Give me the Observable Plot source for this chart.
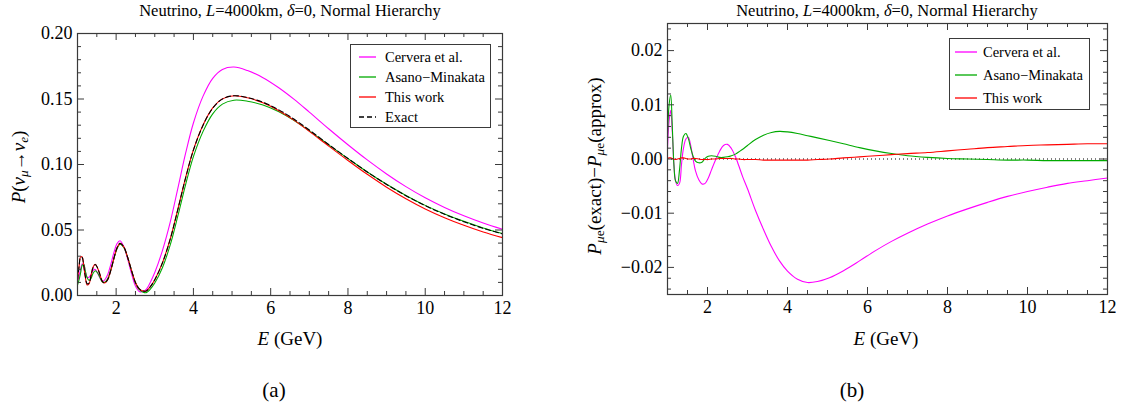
<!DOCTYPE html>
<html><head><meta charset="utf-8">
<script src="https://cdn.jsdelivr.net/npm/d3@7"></script>
<script src="https://cdn.jsdelivr.net/npm/@observablehq/plot@0.6"></script>
<style>
body{margin:0;background:#fff;}
#root{position:relative;width:1121px;height:409px;overflow:hidden;font-family:"Liberation Serif","Times New Roman",serif;color:#000;}
#root svg text{font-family:"Liberation Serif","Times New Roman",serif !important;}
.abs{position:absolute;white-space:nowrap;line-height:1;}
.c{transform:translate(-50%,-50%);}
.rot{transform:translate(-50%,-50%) rotate(-90deg);}
sub{font-size:70%;vertical-align:-0.28em;line-height:0;}
.leg{position:absolute;border:1px solid #3a3a3a;background:#fff;box-sizing:border-box;}
.legtxt{position:absolute;white-space:nowrap;font-size:14.5px;line-height:16px;}
.svgwrap{position:absolute;top:0;}
</style></head><body><div id="root"></div>
<script>
// ---------- data ----------
const energy = [1.00,1.04,1.08,1.12,1.16,1.20,1.25,1.30,1.35,1.40,1.46,1.52,1.58,1.64,1.70,1.78,1.86,1.94,2.02,2.10,2.20,2.30,2.40,2.50,2.60,2.70,2.78,2.88,3.00,3.20,3.40,3.60,3.80,4.00,4.25,4.50,4.75,5.05,5.40,5.80,6.20,6.60,7.00,7.50,8.00,8.50,9.00,9.50,10.0,10.5,11.0,11.5,12.0];

// panel (a): P(nu_mu -> nu_e)
const probExact = [0.012,0.022,0.029,0.029,0.023,0.015,0.009,0.0095,0.015,0.021,0.0236,0.021,0.016,0.011,0.0096,0.012,0.019,0.028,0.036,0.0398,0.037,0.029,0.019,0.010,0.005,0.0034,0.0035,0.0065,0.012,0.025,0.043,0.066,0.090,0.111,0.130,0.143,0.150,0.1525,0.1511,0.1475,0.1419,0.1347,0.1263,0.1153,0.1046,0.0943,0.0848,0.0762,0.0686,0.0620,0.0563,0.0513,0.0470];
const probThisWork = [0.0115,0.022,0.0295,0.0295,0.023,0.0145,0.008,0.009,0.015,0.0215,0.0238,0.021,0.016,0.011,0.0095,0.012,0.019,0.028,0.036,0.0398,0.037,0.029,0.019,0.010,0.005,0.0034,0.0035,0.0066,0.0121,0.0251,0.0432,0.0662,0.0902,0.1112,0.1302,0.1432,0.1501,0.1525,0.1509,0.1471,0.1413,0.1339,0.1253,0.1141,0.1031,0.0925,0.0827,0.0739,0.0661,0.0594,0.0536,0.0485,0.0442];
const probAsano = [0.008,0.012,0.0172,0.023,0.024,0.019,0.0135,0.0115,0.013,0.0168,0.0189,0.0172,0.014,0.0105,0.0100,0.0127,0.0196,0.0279,0.0355,0.0392,0.0365,0.0287,0.0187,0.0096,0.0044,0.0025,0.0022,0.0047,0.0095,0.0214,0.0386,0.0611,0.0849,0.106,0.1253,0.1387,0.1461,0.1491,0.1483,0.1454,0.1404,0.1337,0.1257,0.1150,0.1045,0.0943,0.0849,0.0764,0.0688,0.0623,0.0566,0.0516,0.0473];
const probCervera = [0.010,0.015,0.020,0.024,0.024,0.019,0.0139,0.014,0.016,0.019,0.0199,0.017,0.0135,0.011,0.0118,0.0158,0.0236,0.0325,0.0395,0.0418,0.0372,0.0276,0.0165,0.0073,0.0031,0.003,0.0047,0.0098,0.0175,0.0345,0.056,0.0822,0.1088,0.1317,0.1522,0.1658,0.1726,0.1744,0.1717,0.1663,0.1588,0.1499,0.1400,0.1273,0.1151,0.1035,0.0928,0.0831,0.0746,0.0672,0.0608,0.0553,0.0505];

// panel (b): P(exact) - P(approx)
const diffCervera = [0.002,0.007,0.009,0.005,-0.001,-0.004,-0.0049,-0.0045,-0.001,0.002,0.0037,0.004,0.0025,0.0,-0.0022,-0.0038,-0.0046,-0.0045,-0.0035,-0.002,-0.0002,0.0014,0.0025,0.0027,0.0019,0.0004,-0.0012,-0.0033,-0.0055,-0.0095,-0.0130,-0.0162,-0.0188,-0.0207,-0.0222,-0.0228,-0.0226,-0.0219,-0.0206,-0.0188,-0.0169,-0.0152,-0.0137,-0.0120,-0.0105,-0.0092,-0.0080,-0.0069,-0.0060,-0.0052,-0.0045,-0.0040,-0.0035];
const diffAsano = [0.004,0.010,0.0118,0.006,-0.001,-0.004,-0.0045,-0.002,0.002,0.0042,0.0047,0.0038,0.002,0.0005,-0.0004,-0.0007,-0.0006,0.0001,0.0005,0.0006,0.0005,0.0003,0.0003,0.0004,0.0006,0.0009,0.0013,0.0018,0.0025,0.0036,0.0044,0.0049,0.0051,0.0050,0.0047,0.0043,0.0039,0.0034,0.0028,0.0021,0.0015,0.0010,0.0006,0.0003,0.0001,0.0,-0.0001,-0.0002,-0.0002,-0.0003,-0.0003,-0.0003,-0.0003];
const diffThisWork = [0.0001,0.0002,0.0002,0.0001,0.0,-0.0001,0.0,0.0001,0.0002,0.0002,0.0001,0.0,0.0,0.0001,0.0001,0.0,-0.0001,-0.0001,-0.0001,0.0,0.0,0.0001,0.0001,0.0001,0.0001,0.0,0.0,-0.0001,-0.0001,-0.0001,-0.0002,-0.0002,-0.0002,-0.0002,-0.0002,-0.0002,-0.0001,0.0,0.0002,0.0004,0.0006,0.0008,0.0010,0.0012,0.0015,0.0018,0.0021,0.0023,0.0025,0.0026,0.0027,0.0028,0.0028];

const seriesNames = ["Cervera et al.", "Asano\u2212Minakata", "This work", "Exact"];
const seriesColors = ["#ff00ff", "#00aa00", "#ff0000", "#000000"];

const xMajor = [2,4,6,8,10,12];
const xMinor = [1.5,2.5,3,3.5,4.5,5,5.5,6.5,7,7.5,8.5,9,9.5,10.5,11,11.5];
const yMajorA = [0,0.05,0.10,0.15,0.20];
const yMinorA = [0.01,0.02,0.03,0.04,0.06,0.07,0.08,0.09,0.11,0.12,0.13,0.14,0.16,0.17,0.18,0.19];
const yMajorB = [-0.02,-0.01,0,0.01,0.02];
const yMinorB = [-0.024,-0.022,-0.018,-0.016,-0.014,-0.012,-0.008,-0.006,-0.004,-0.002,0.002,0.004,0.006,0.008,0.012,0.014,0.016,0.018,0.022,0.024];

// ---------- helpers ----------
const root = document.getElementById("root");
const rows = vals => energy.map((e, i) => ({E: e, v: vals[i]}));
const frameColor = "#3a3a3a";
const serif = '"Liberation Serif","Times New Roman",serif';

function panel({left, width, mL, mR, mT, mB, yDomain, yMajor, yMinor, curves, extra}) {
  const height = 409;
  const fh = height - mT - mB, fw = width - mL - mR;
  const big = 7, small = 4;
  const tickMarks = [
    Plot.tickX(xMajor, {x: d => d, insetTop: fh - big, stroke: frameColor}),
    Plot.tickX(xMinor, {x: d => d, insetTop: fh - small, stroke: frameColor}),
    Plot.tickX(xMajor, {x: d => d, insetBottom: fh - big, stroke: frameColor}),
    Plot.tickX(xMinor, {x: d => d, insetBottom: fh - small, stroke: frameColor}),
    Plot.tickY(yMajor, {y: d => d, insetRight: fw - big, stroke: frameColor}),
    Plot.tickY(yMinor, {y: d => d, insetRight: fw - small, stroke: frameColor}),
    Plot.tickY(yMajor, {y: d => d, insetLeft: fw - big, stroke: frameColor}),
    Plot.tickY(yMinor, {y: d => d, insetLeft: fw - small, stroke: frameColor})
  ];
  const svg = Plot.plot({
    width, height, marginLeft: mL, marginRight: mR, marginTop: mT, marginBottom: mB,
    x: {domain: [1, 12]},
    y: {domain: yDomain},
    style: {fontFamily: serif, fontSize: "18px", background: "transparent", color: "#000"},
    marks: [
      ...(extra || []),
      ...curves.map(c => Plot.line(rows(c.vals), {x: "E", y: "v", stroke: c.color, strokeWidth: 1.1, strokeDasharray: c.dash, curve: "catmull-rom"})),
      Plot.frame({stroke: frameColor, strokeWidth: 1.2}),
      ...tickMarks,
      Plot.axisX(xMajor, {tickSize: 0, tickPadding: 6, label: null, fontSize: 18, fontFamily: serif, fill: "#000"}),
      Plot.axisY(yMajor, {tickSize: 0, tickPadding: 5, label: null, fontSize: 18, fontFamily: serif, fill: "#000", tickFormat: d3.format(".2f")})
    ]
  });
  const wrap = document.createElement("div");
  wrap.className = "svgwrap";
  wrap.style.left = left + "px";
  wrap.appendChild(svg);
  root.appendChild(wrap);
}

function text(html, x, y, size, cls) {
  const d = document.createElement("div");
  d.className = "abs " + (cls || "c");
  d.style.left = x + "px"; d.style.top = y + "px"; d.style.fontSize = size + "px";
  d.innerHTML = html;
  root.appendChild(d);
}

function legend(box, rowYs, sx1, sx2, tx, n) {
  const b = document.createElement("div");
  b.className = "leg";
  Object.assign(b.style, {left: box[0] + "px", top: box[1] + "px", width: box[2] + "px", height: box[3] + "px"});
  root.appendChild(b);
  for (let i = 0; i < n; i++) {
    const y = rowYs[i];
    const s = document.createElementNS("http://www.w3.org/2000/svg", "svg");
    s.setAttribute("width", sx2 - sx1); s.setAttribute("height", 4);
    s.style.position = "absolute"; s.style.left = sx1 + "px"; s.style.top = (y - 2) + "px";
    const l = document.createElementNS("http://www.w3.org/2000/svg", "line");
    l.setAttribute("x1", 0); l.setAttribute("x2", sx2 - sx1); l.setAttribute("y1", 2); l.setAttribute("y2", 2);
    l.setAttribute("stroke", seriesColors[i]); l.setAttribute("stroke-width", 1.3);
    if (i === 3) l.setAttribute("stroke-dasharray", "5,3");
    s.appendChild(l);
    root.appendChild(s);
    const t = document.createElement("div");
    t.className = "legtxt";
    t.style.left = tx + "px"; t.style.top = (y - 8) + "px";
    t.textContent = seriesNames[i];
    root.appendChild(t);
  }
}

// ---------- panel (a) ----------
panel({
  left: 0, width: 560, mL: 77, mR: 58, mT: 33, mB: 114,
  yDomain: [0, 0.20], yMajor: yMajorA, yMinor: yMinorA,
  curves: [
    {vals: probCervera, color: seriesColors[0]},
    {vals: probAsano, color: seriesColors[1]},
    {vals: probThisWork, color: seriesColors[2]},
    {vals: probExact, color: seriesColors[3], dash: "5,3"}
  ]
});

// ---------- panel (b) ----------
panel({
  left: 560, width: 561, mL: 107, mR: 14, mT: 23, mB: 115,
  yDomain: [-0.025, 0.025], yMajor: yMajorB, yMinor: yMinorB,
  extra: [Plot.ruleY([0], {stroke: "#000", strokeDasharray: "1,3", strokeWidth: 1})],
  curves: [
    {vals: diffCervera, color: seriesColors[0]},
    {vals: diffAsano, color: seriesColors[1]},
    {vals: diffThisWork, color: seriesColors[2]}
  ]
});

// ---------- texts ----------
const title = "Neutrino, <i>L</i>=4000km, <i>\u03b4</i>=0, Normal Hierarchy";
text(title, 290, 11, 16.5);
text(title, 887, 11, 16.5);
text("<i>E</i> (GeV)", 290, 338, 19);
text("<i>E</i> (GeV)", 886, 338, 19);
text("(a)", 274, 390, 21);
text("(b)", 852, 390, 21);
text("<i>P</i>(<i>\u03bd</i><sub><i>\u03bc</i></sub>\u2192<i>\u03bd</i><sub><i>e</i></sub>)", 18, 167, 19, "rot");
text("<i>P</i><sub><i>\u03bc</i>e</sub>(exact)\u2212<i>P</i><sub><i>\u03bc</i>e</sub>(approx)", 594, 166, 19, "rot");

legend([350, 44, 141, 84], [56.7, 76.7, 96.7, 116.7], 359, 376, 385, 4);
legend([949, 38, 141, 72], [52.3, 75, 97.7], 955, 977, 983, 3);
</script>
</body></html>
